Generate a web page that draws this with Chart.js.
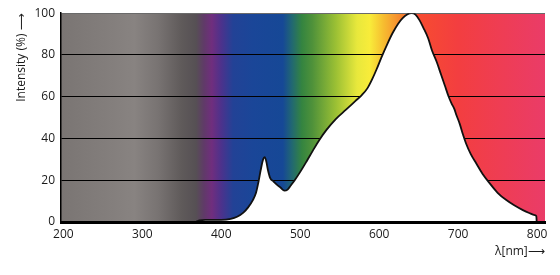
<!DOCTYPE html>
<html>
<head>
<meta charset="utf-8">
<script src="https://cdn.jsdelivr.net/npm/chart.js@4"></script>
<style>
  html, body { margin: 0; padding: 0; background: #ffffff; }
  #wrap { width: 560px; height: 275px; }
</style>
</head>
<body>
<div id="wrap"><canvas id="c" width="560" height="275"></canvas></div>
<script>
// Data
const wavelengths = [368, 372, 380, 400, 412, 420, 428, 434, 440, 444, 447, 450, 453, 455, 457, 459, 462, 466, 470, 475, 480, 484, 488, 493, 500, 508, 516, 524, 533, 545, 558, 570, 578, 585, 591, 597, 603, 610, 617, 624, 630, 636, 641, 646, 651, 656, 662, 667, 673, 678, 683, 688, 692, 695, 698, 702, 706, 710, 716, 723, 731, 740, 750, 761, 771, 782, 790, 797, 799, 799.5];
const intensity   = [0, 0.8, 1, 1, 1.5, 2.5, 4.5, 7, 10.5, 14, 19, 25, 30, 31, 29, 25, 21, 19.5, 18, 16.5, 15, 15.5, 17.5, 20, 24, 29, 34.2, 39.2, 44, 49.3, 53.8, 58, 60.8, 64, 68.3, 73.4, 79, 85, 90.5, 95, 97.8, 99.5, 100, 99.3, 96.7, 93, 88, 82, 76.5, 71, 65.5, 60, 56.5, 54.3, 51, 47, 42, 37.6, 32.5, 28, 23, 18.5, 14, 10.5, 8, 5.7, 4.3, 3.3, 2.8, 0];
const xTickValues = [200, 300, 400, 500, 600, 700, 800];
const yTickValues = [0, 20, 40, 60, 80, 100];

// Background spectrum colour stops (style)
const spectrumStops = [
  [197, 'rgb(122,117,115)'],
  [290, 'rgb(136,131,129)'],
  [320, 'rgb(120,115,114)'],
  [350, 'rgb(95,90,90)'],
  [368, 'rgb(86,80,84)'],
  [378, 'rgb(96,58,104)'],
  [388, 'rgb(112,46,126)'],
  [400, 'rgb(76,50,140)'],
  [415, 'rgb(34,66,150)'],
  [440, 'rgb(26,70,152)'],
  [478, 'rgb(22,72,150)'],
  [490, 'rgb(34,105,112)'],
  [502, 'rgb(52,132,64)'],
  [515, 'rgb(78,145,58)'],
  [545, 'rgb(155,192,52)'],
  [572, 'rgb(232,232,60)'],
  [588, 'rgb(248,236,58)'],
  [605, 'rgb(246,190,48)'],
  [625, 'rgb(246,140,46)'],
  [648, 'rgb(247,76,48)'],
  [700, 'rgb(243,62,64)'],
  [810, 'rgb(234,60,104)']
];

const spectrumBg = {
  id: 'spectrumBg',
  beforeDraw(chart) {
    const {ctx, chartArea: a, scales: {x}} = chart;
    const g = ctx.createLinearGradient(a.left, 0, a.right, 0);
    const w = a.right - a.left;
    spectrumStops.forEach(([nm, col]) => {
      const p = (x.getPixelForValue(nm) - a.left) / w;
      g.addColorStop(Math.min(1, Math.max(0, p)), col);
    });
    ctx.save();
    ctx.fillStyle = g;
    ctx.fillRect(a.left, a.top, w, a.bottom - a.top);
    ctx.restore();
  }
};

const FONT = { family: "'Open Sans', 'DejaVu Sans', sans-serif", size: 12 };

new Chart(document.getElementById('c'), {
  type: 'line',
  data: {
    datasets: [{
      data: wavelengths.map((w, i) => ({ x: w, y: intensity[i] })),
      borderColor: '#111',
      borderWidth: 1.8,
      backgroundColor: '#ffffff',
      fill: 'origin',
      pointRadius: 0,
      cubicInterpolationMode: 'monotone'
    }]
  },
  options: {
    responsive: false,
    animation: false,
    layout: { padding: { left: 14, top: 13, right: 15, bottom: 0 } },
    plugins: { legend: { display: false }, tooltip: { enabled: false } },
    scales: {
      x: {
        type: 'linear',
        min: 197,
        max: 810,
        afterBuildTicks(s) { s.ticks = xTickValues.map(v => ({ value: v })); },
        afterFit(s) { s.height = 53; },
        grid: { display: false, drawTicks: false },
        border: { display: true, color: '#000', width: 3, z: 1 },
        ticks: { color: '#1a1a1a', font: FONT, padding: 5, maxRotation: 0 },
        title: {
          display: true,
          text: 'λ[nm]⟶',
          align: 'end',
          color: '#1a1a1a',
          font: FONT,
          padding: { top: 0, bottom: 16 }
        }
      },
      y: {
        min: 0,
        max: 100,
        afterBuildTicks(s) { s.ticks = yTickValues.map(v => ({ value: v })); },
        afterFit(s) { s.width = 47; },
        grid: {
          drawTicks: false,
          color: ctx => (ctx.tick && ctx.tick.value === 100) ? '#6a6a6a' : '#000',
          lineWidth: 1
        },
        border: { display: true, color: '#000', width: 1.5, z: 1 },
        ticks: { color: '#1a1a1a', font: FONT, padding: 6 },
        title: {
          display: true,
          text: 'Intensity (%) ⟶',
          align: 'end',
          color: '#1a1a1a',
          font: FONT,
          padding: { top: 0, bottom: 0 }
        }
      }
    }
  },
  plugins: [spectrumBg]
});
</script>
</body>
</html>
